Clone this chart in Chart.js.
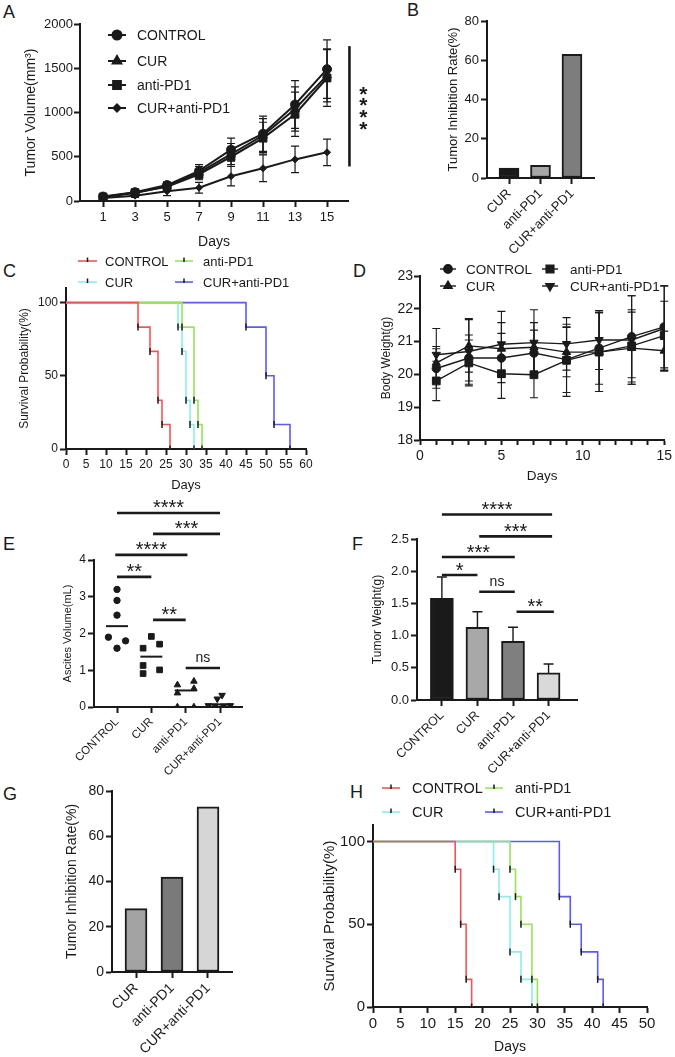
<!DOCTYPE html>
<html>
<head>
<meta charset="utf-8">
<title>Tumor study panels</title>
<script src="https://cdn.jsdelivr.net/npm/chart.js@4.4.1/dist/chart.umd.min.js"></script>
<style>
  html, body { margin: 0; padding: 0; background: #fff; }
  body { position: relative; width: 675px; height: 1057px; overflow: hidden;
         font-family: "Liberation Sans", Arial, sans-serif; color: #1a1a1a; }
  canvas { position: absolute; }
  .tag { position: absolute; font-size: 18px; line-height: 18px; }
</style>
</head>
<body>
<div class="tag" style="left:3px;top:3px">A</div>
<div class="tag" style="left:407px;top:1px">B</div>
<div class="tag" style="left:3px;top:262px">C</div>
<div class="tag" style="left:353px;top:262px">D</div>
<div class="tag" style="left:3px;top:535px">E</div>
<div class="tag" style="left:352px;top:535px">F</div>
<div class="tag" style="left:3px;top:785px">G</div>
<div class="tag" style="left:350px;top:783px">H</div>
<script>
// values
const days = [1, 3, 5, 7, 9, 11, 13, 15];
const groups = ["CONTROL", "CUR", "anti-PD1", "CUR+anti-PD1"];
const treated = ["CUR", "anti-PD1", "CUR+anti-PD1"];

// A: tumor volume (mm3), mean and SD
const volCtrl = [50, 100, 180, 340, 580, 760, 1090, 1490];
const volCur = [45, 90, 170, 320, 530, 740, 1040, 1420];
const volAnti = [45, 95, 160, 300, 500, 710, 980, 1390];
const volCombo = [35, 60, 110, 150, 280, 370, 470, 550];
const volCtrlSd = [15, 25, 35, 70, 130, 200, 270, 330];
const volCurSd = [15, 25, 35, 70, 120, 190, 250, 300];
const volAntiSd = [15, 25, 35, 60, 110, 180, 250, 320];
const volComboSd = [15, 20, 50, 60, 110, 150, 150, 150];
const sigA = [{ vertical: true, x: 16.4, from: 1750, to: 390, text: "****" }];

// B and G: tumor inhibition rate (%)
const inhibitB = [5, 6.5, 63];
const inhibitG = [28, 42, 73];

// C: survival, first cohort
const survC_ctrlDay = [0, 18, 21, 23, 24, 26];
const survC_ctrlPct = [100, 83.3, 66.7, 33.3, 16.7, 0];
const survC_curDay = [0, 28, 29, 30, 31, 32];
const survC_curPct = [100, 83.3, 66.7, 33.3, 16.7, 0];
const survC_antiDay = [0, 29, 32, 33, 34];
const survC_antiPct = [100, 83.3, 33.3, 16.7, 0];
const survC_comboDay = [0, 45, 50, 52, 56];
const survC_comboPct = [100, 83.3, 50, 16.7, 0];

// D: body weight (g), mean and SD
const bwCtrl = [20.18, 20.5, 20.5, 20.65, 20.45, 20.8, 21.15, 21.45];
const bwCur = [20.35, 20.87, 20.78, 20.83, 20.68, 20.68, 20.8, 20.72];
const bwAnti = [19.8, 20.35, 20.02, 19.99, 20.43, 20.68, 20.87, 21.18];
const bwCombo = [20.6, 20.7, 20.92, 20.97, 20.93, 21.05, 21.05, 21.4];
const bwCtrlSd = [0.6, 0.7, 0.75, 0.7, 1.0, 1.1, 1.25, 1.25];
const bwCurSd = [0.5, 0.8, 0.8, 0.75, 0.75, 1.2, 1.1, 0.6];
const bwAntiSd = [0.6, 0.7, 0.75, 0.7, 1.1, 1.2, 1.1, 1.05];
const bwComboSd = [0.8, 1.0, 1.0, 1.0, 0.8, 0.9, 1.35, 1.3];

// E: ascites volume (mL), single animals + group means
const ascCtrl = [3.2, 2.9, 2.5, 1.9, 1.8, 1.6];
const ascCtrlJit = [0, 0, 0, -0.25, 0.25, 0];
const ascCur = [1.92, 1.6, 1.71, 1.13, 1.01, 0.91];
const ascCurJit = [0, -0.24, 0.24, -0.24, 0.24, -0.24];
const ascAnti = [0.6, 0.38, 0, 0.7, 0.5, 0];
const ascAntiJit = [-0.24, -0.24, -0.24, 0.24, 0.24, 0.24];
const ascCombo = [0.32, 0.22, 0.04, 0.03, 0.03, 0.04];
const ascComboJit = [0.06, -0.08, -0.34, -0.14, 0.1, 0.3];
const ascMeans = [2.2, 1.37, 0.45, 0.07];
const sigE = [
  { from: 0, to: 3, at: 5.28, text: "****" },
  { from: 1.05, to: 3, at: 4.71, text: "***" },
  { from: -0.05, to: 2.05, at: 4.14, text: "****" },
  { from: 0, to: 1, at: 3.54, text: "**" },
  { from: 1.05, to: 2, at: 2.37, text: "**" },
  { from: 2, to: 3, at: 1.06, text: "ns" }
];

// F: tumor weight (g), mean + SD
const weightF = [1.58, 1.13, 0.91, 0.42];
const weightFSd = [0.33, 0.24, 0.22, 0.14];
const sigF = [
  { from: 0, to: 3.1, at: 2.88, text: "****" },
  { from: 1.05, to: 3.1, at: 2.54, text: "***" },
  { from: 0, to: 2.05, at: 2.22, text: "***" },
  { from: 0, to: 1.0, at: 1.94, text: "*" },
  { from: 1.05, to: 2.05, at: 1.68, text: "ns" },
  { from: 2.1, to: 3.15, at: 1.37, text: "**" }
];

// H: survival, second cohort
const survH_ctrlDay = [0, 15, 16, 17, 18];
const survH_ctrlPct = [100, 83.3, 50, 16.7, 0];
const survH_curDay = [0, 22, 23, 25, 27, 29];
const survH_curPct = [100, 83.3, 66.7, 33.3, 16.7, 0];
const survH_antiDay = [0, 25, 26, 27, 29, 30];
const survH_antiPct = [100, 83.3, 66.7, 50, 16.7, 0];
const survH_comboDay = [0, 34, 36, 38, 41, 42];
const survH_comboPct = [100, 66.7, 50, 33.3, 16.7, 0];

// ---------- look ----------
const INK = "#1a1a1a";
const FONT = '"Liberation Sans", Arial, sans-serif';
const kmColors = ["#f05656", "#8aeeee", "#97e35c", "#5b5bf2"];
Chart.defaults.font.family = FONT;
Chart.defaults.color = INK;

function drawErr(chart) {
  const ctx = chart.ctx, ys = chart.scales.y;
  chart.data.datasets.forEach((ds, i) => {
    if (!ds.sd) return;
    const meta = chart.getDatasetMeta(i);
    ctx.save();
    ctx.strokeStyle = INK;
    ctx.lineWidth = ds.sdLine || 1.2;
    meta.data.forEach((el, j) => {
      const raw = ds.data[j];
      const v = typeof raw === "object" ? raw.y : raw;
      const hi = ys.getPixelForValue(v + ds.sd[j]);
      const lo = ys.getPixelForValue(ds.sdUp ? v : v - ds.sd[j]);
      const c = ds.sdCap || 4;
      ctx.beginPath();
      ctx.moveTo(el.x, hi); ctx.lineTo(el.x, lo);
      ctx.moveTo(el.x - c, hi); ctx.lineTo(el.x + c, hi);
      if (!ds.sdUp) { ctx.moveTo(el.x - c, lo); ctx.lineTo(el.x + c, lo); }
      ctx.stroke();
    });
    ctx.restore();
  });
}

const errorBars = {
  id: "errorBars",
  beforeDatasetsDraw(chart, args, opts) { if (opts.under) drawErr(chart); },
  afterDatasetsDraw(chart, args, opts) { if (!opts.under) drawErr(chart); }
};

const sigMarks = {
  id: "sigMarks",
  afterDraw(chart, args, opts) {
    const items = opts.items || [];
    const ctx = chart.ctx, xs = chart.scales.x, ys = chart.scales.y;
    items.forEach(b => {
      ctx.save();
      ctx.strokeStyle = INK; ctx.fillStyle = INK; ctx.lineWidth = 2.6;
      ctx.textAlign = "center"; ctx.textBaseline = "alphabetic";
      if (b.vertical) {
        const x = xs.getPixelForValue(b.x);
        const y1 = ys.getPixelForValue(b.from), y2 = ys.getPixelForValue(b.to);
        ctx.beginPath(); ctx.moveTo(x, y1); ctx.lineTo(x, y2); ctx.stroke();
        ctx.font = "bold 21px " + FONT;
        const n = b.text.length, mid = (y1 + y2) / 2;
        for (let k = 0; k < n; k++) ctx.fillText("*", x + 14, mid + (k - (n - 1) / 2) * 11.7 + 12);
      } else {
        const x1 = xs.getPixelForValue(b.from), x2 = xs.getPixelForValue(b.to);
        const y = ys.getPixelForValue(b.at);
        ctx.beginPath(); ctx.moveTo(x1, y); ctx.lineTo(x2, y); ctx.stroke();
        const ns = b.text === "ns";
        ctx.font = (ns ? "14px " : "20px ") + FONT;
        ctx.fillText(b.text, (x1 + x2) / 2, ns ? y - 6 : y + 1.5);
      }
      ctx.restore();
    });
  }
};

const keyBox = {
  id: "keyBox",
  afterDraw(chart, args, opts) {
    if (!opts.items) return;
    const ctx = chart.ctx;
    opts.items.forEach(it => {
      const ds = chart.data.datasets[it.ds];
      const x1 = it.x1 - opts.ox, x2 = it.x2 - opts.ox, y = it.y - opts.oy;
      const mx = (x1 + x2) / 2;
      ctx.save();
      ctx.strokeStyle = ds.borderColor; ctx.lineWidth = opts.lw || 2;
      ctx.beginPath(); ctx.moveTo(x1, y); ctx.lineTo(x2, y); ctx.stroke();
      ctx.strokeStyle = INK; ctx.fillStyle = INK;
      if (opts.tick) {
        ctx.lineWidth = 1.5;
        ctx.beginPath(); ctx.moveTo(mx, y - 3.5); ctx.lineTo(mx, y + 1); ctx.stroke();
      } else {
        Chart.helpers.drawPoint(ctx, { pointStyle: ds.pointStyle, rotation: ds.pointRotation || 0,
          radius: ds.pointRadius, borderWidth: 1 }, mx, y);
      }
      ctx.font = opts.size + "px " + FONT;
      ctx.textAlign = "left"; ctx.textBaseline = "middle";
      ctx.fillText(ds.label, it.tx - opts.ox, y + 1);
      ctx.restore();
    });
  }
};

function linAxis(o) {
  const ax = {
    type: "linear", min: o.min, max: o.max, offset: false,
    border: { color: INK, width: 2 },
    grid: { drawOnChartArea: false, offset: false, tickLength: o.tick || 6, tickWidth: 2, tickColor: INK, color: INK },
    ticks: { color: INK, padding: o.pad === undefined ? 2 : o.pad, font: { size: o.size }, autoSkip: false,
             minRotation: o.rot || 0, maxRotation: o.rot || 0 },
    title: { display: false }
  };
  if (o.step) ax.ticks.stepSize = o.step;
  if (o.fmt) ax.ticks.callback = o.fmt;
  if (o.at) ax.afterBuildTicks = s => { s.ticks = o.at.map(v => ({ value: v })); };
  if (o.title) ax.title = { display: true, text: o.title, color: INK, font: { size: o.tsize }, padding: o.tpad };
  return ax;
}

// box = canvas [left, top, w, h] on the page, area = plot area [left, top, right, bottom] on the page
function panel(box, area, config) {
  const cv = document.createElement("canvas");
  cv.width = box[2]; cv.height = box[3];
  cv.style.left = box[0] + "px"; cv.style.top = box[1] + "px";
  document.body.appendChild(cv);
  const o = config.options;
  o.responsive = false;
  o.animation = false;
  o.layout = { padding: { left: 0, top: area[1] - box[1], right: box[0] + box[2] - area[2], bottom: 0 } };
  o.plugins = Object.assign({ legend: { display: false }, tooltip: { enabled: false } }, o.plugins);
  if (o.plugins.keyBox) Object.assign(o.plugins.keyBox, { ox: box[0], oy: box[1] });
  o.scales.x.afterFit = s => { s.height = box[1] + box[3] - area[3]; };
  o.scales.y.afterFit = s => { s.width = area[0] - box[0]; };
  config.plugins = [errorBars, sigMarks, keyBox];
  return new Chart(cv, config);
}

const plain = v => String(v);

// ---------- A ----------
const markA = ["circle", "triangle", "rect", "rectRot"];
const radA = [4.5, 5, 5.5, 3.5];
function volSet(label, mean, sd, k) {
  return { label, data: days.map((d, i) => ({ x: d, y: mean[i] })), sd, sdCap: 4, sdLine: 1.2,
    borderColor: INK, borderWidth: 2, pointStyle: markA[k], pointRadius: radA[k],
    pointBackgroundColor: INK, pointBorderColor: INK, pointBorderWidth: 1 };
}
panel([0, 0, 400, 255], [80, 24, 348, 201], {
  type: "line",
  data: { datasets: [
    volSet(groups[0], volCtrl, volCtrlSd, 0),
    volSet(groups[1], volCur, volCurSd, 1),
    volSet(groups[2], volAnti, volAntiSd, 2),
    volSet(groups[3], volCombo, volComboSd, 3)
  ] },
  options: {
    scales: {
      x: linAxis({ min: -0.44, max: 16.31, at: days, size: 13, pad: 3, fmt: plain,
                   title: "Days", tsize: 14, tpad: { top: 0, bottom: 4.6 } }),
      y: linAxis({ min: 0, max: 2000, step: 500, size: 13, pad: 1, fmt: plain,
                   title: "Tumor Volume(mm³)", tsize: 14, tpad: { top: 22.6, bottom: 0 } })
    },
    plugins: {
      errorBars: { under: true },
      sigMarks: { items: sigA },
      keyBox: { size: 14, lw: 2, items: [
        { ds: 0, x1: 108, x2: 126, tx: 137, y: 35 },
        { ds: 1, x1: 108, x2: 126, tx: 137, y: 61 },
        { ds: 2, x1: 108, x2: 126, tx: 137, y: 85 },
        { ds: 3, x1: 108, x2: 126, tx: 137, y: 108 }
      ] }
    }
  }
});

// ---------- B ----------
panel([400, 0, 275, 260], [487, 21, 594, 178], {
  type: "bar",
  data: { datasets: [{ data: inhibitB.map((v, i) => ({ x: i, y: v })),
    backgroundColor: [INK, "#a6a6a6", "#7d7d7d"], borderColor: INK, borderWidth: 2,
    borderSkipped: false, barThickness: 20 }] },
  options: {
    scales: {
      x: linAxis({ min: -0.7, max: 2.7, at: [0, 1, 2], fmt: v => treated[v], rot: 45, size: 13, pad: 2 }),
      y: linAxis({ min: 0, max: 80, step: 20, size: 13, pad: 2, fmt: plain,
                   title: "Tumor Inhibition Rate(%)", tsize: 13, tpad: { top: 45.2, bottom: 0 } })
    }
  }
});

// ---------- C and H ----------
function kmSet(label, dayArr, pctArr, k, order) {
  return { label, data: dayArr.map((d, i) => ({ x: d, y: pctArr[i] })), stepped: true, order,
    borderColor: kmColors[k], borderWidth: 1.6, fill: false,
    pointStyle: "line", pointRotation: 90, pointRadius: dayArr.map((d, i) => (i ? 3.5 : 0)),
    pointBorderColor: INK, pointBorderWidth: 1.5 };
}
panel([0, 250, 340, 250], [66, 288, 306, 449], {
  type: "line",
  data: { datasets: [
    kmSet(groups[0], survC_ctrlDay, survC_ctrlPct, 0, 0),
    kmSet(groups[1], survC_curDay, survC_curPct, 1, 2),
    kmSet(groups[2], survC_antiDay, survC_antiPct, 2, 1),
    kmSet(groups[3], survC_comboDay, survC_comboPct, 3, 3)
  ] },
  options: {
    scales: {
      x: linAxis({ min: 0, max: 60, step: 5, size: 12, pad: 2, fmt: plain,
                   title: "Days", tsize: 13, tpad: { top: 0, bottom: 7.2 } }),
      y: linAxis({ min: 0, max: 110, at: [0, 50, 100], size: 12, pad: 2, fmt: plain,
                   title: "Survival Probability(%)", tsize: 12, tpad: { top: 17.8, bottom: 0 } })
    },
    plugins: {
      keyBox: { size: 13, lw: 1.6, tick: true, items: [
        { ds: 0, x1: 78, x2: 97, tx: 105, y: 261 },
        { ds: 2, x1: 175, x2: 193, tx: 203, y: 261 },
        { ds: 1, x1: 78, x2: 97, tx: 105, y: 282 },
        { ds: 3, x1: 175, x2: 193, tx: 203, y: 282 }
      ] }
    }
  }
});

panel([300, 770, 375, 287], [373, 825, 647, 1007], {
  type: "line",
  data: { datasets: [
    kmSet(groups[0], survH_ctrlDay, survH_ctrlPct, 0, 0),
    kmSet(groups[1], survH_curDay, survH_curPct, 1, 2),
    kmSet(groups[2], survH_antiDay, survH_antiPct, 2, 1),
    kmSet(groups[3], survH_comboDay, survH_comboPct, 3, 3)
  ] },
  options: {
    scales: {
      x: linAxis({ min: 0, max: 50, step: 5, size: 15, pad: 2, fmt: plain,
                   title: "Days", tsize: 14, tpad: { top: 0, bottom: 1.6 } }),
      y: linAxis({ min: 0, max: 110, at: [0, 50, 100], size: 15, pad: 2, fmt: plain,
                   title: "Survival Probability(%)", tsize: 15, tpad: { top: 21, bottom: 0 } })
    },
    plugins: {
      keyBox: { size: 14.5, lw: 1.6, tick: true, items: [
        { ds: 0, x1: 382, x2: 400, tx: 412, y: 788 },
        { ds: 2, x1: 485, x2: 503, tx: 515, y: 788 },
        { ds: 1, x1: 382, x2: 400, tx: 412, y: 812 },
        { ds: 3, x1: 485, x2: 503, tx: 515, y: 812 }
      ] }
    }
  }
});

// ---------- D ----------
const markD = ["circle", "triangle", "rect", "triangle"];
const rotD = [0, 0, 0, 180];
const radD = [4.2, 4.8, 5.5, 4.8];
function bwSet(label, mean, sd, k) {
  return { label, data: days.map((d, i) => ({ x: d, y: mean[i] })), sd, sdCap: 4, sdLine: 1.1,
    borderColor: INK, borderWidth: 1.4, pointStyle: markD[k], pointRotation: rotD[k], pointRadius: radD[k],
    pointBackgroundColor: INK, pointBorderColor: INK, pointBorderWidth: 1 };
}
panel([340, 250, 335, 250], [420, 276, 667, 440], {
  type: "line",
  data: { datasets: [
    bwSet(groups[0], bwCtrl, bwCtrlSd, 0),
    bwSet(groups[1], bwCur, bwCurSd, 1),
    bwSet(groups[2], bwAnti, bwAntiSd, 2),
    bwSet(groups[3], bwCombo, bwComboSd, 3)
  ] },
  options: {
    scales: {
      x: linAxis({ min: 0, max: 15, step: 1, size: 14, pad: 3, tick: 5, fmt: v => (v % 5 === 0 ? String(v) : ""),
                   title: "Days", tsize: 13.5, tpad: { top: 0, bottom: 15.9 } }),
      y: linAxis({ min: 18, max: 23, step: 1, size: 14, pad: 1, fmt: plain,
                   title: "Body Weight(g)", tsize: 12, tpad: { top: 39.8, bottom: 0 } })
    },
    plugins: {
      errorBars: { under: true },
      keyBox: { size: 13.5, lw: 1.4, items: [
        { ds: 0, x1: 440, x2: 456, tx: 466, y: 269 },
        { ds: 2, x1: 542, x2: 558, tx: 570, y: 269 },
        { ds: 1, x1: 440, x2: 456, tx: 466, y: 286 },
        { ds: 3, x1: 542, x2: 558, tx: 570, y: 286 }
      ] }
    }
  }
});

// ---------- E ----------
function dotSet(vals, jit, k, style, rot, r) {
  return { type: "scatter", data: vals.map((v, i) => ({ x: k + jit[i], y: v })), showLine: false,
    pointStyle: style, pointRotation: rot, pointRadius: r,
    pointBackgroundColor: INK, pointBorderColor: INK, pointBorderWidth: 1 };
}
function meanSet(k) {
  return { type: "line", data: [{ x: k - 0.32, y: ascMeans[k] }, { x: k + 0.32, y: ascMeans[k] }],
    borderColor: INK, borderWidth: 2, pointRadius: 0 };
}
panel([0, 495, 340, 290], [94, 560, 242, 707], {
  type: "scatter",
  data: { datasets: [
    dotSet(ascCtrl, ascCtrlJit, 0, "circle", 0, 3.2),
    dotSet(ascCur, ascCurJit, 1, "rect", 0, 4),
    dotSet(ascAnti, ascAntiJit, 2, "triangle", 0, 3.8),
    dotSet(ascCombo, ascComboJit, 3, "triangle", 180, 3.8),
    meanSet(0), meanSet(1), meanSet(2), meanSet(3)
  ] },
  options: {
    scales: {
      x: linAxis({ min: -0.67, max: 3.64, at: [0, 1, 2, 3], fmt: v => groups[v], rot: 45, size: 11.5, pad: 2 }),
      y: linAxis({ min: 0, max: 4, step: 1, size: 12, pad: 2, fmt: plain,
                   title: "Ascites Volume(mL)", tsize: 11, tpad: { top: 61.4, bottom: 0 } })
    },
    plugins: { sigMarks: { items: sigE } }
  }
});

// ---------- F ----------
panel([340, 495, 335, 290], [417, 539, 577, 700], {
  type: "bar",
  data: { datasets: [{ data: weightF.map((v, i) => ({ x: i, y: v })), sd: weightFSd, sdUp: true, sdCap: 5, sdLine: 1.4,
    backgroundColor: [INK, "#a8a8a8", "#7f7f7f", "#d9d9d9"], borderColor: INK, borderWidth: 2,
    borderSkipped: false, barThickness: 23 }] },
  options: {
    scales: {
      x: linAxis({ min: -0.7, max: 3.8, at: [0, 1, 2, 3], fmt: v => groups[v], rot: 45, size: 12.5, pad: 2 }),
      y: linAxis({ min: 0, max: 2.5, step: 0.5, size: 13, pad: 2, fmt: v => v.toFixed(1),
                   title: "Tumor Weight(g)", tsize: 12, tpad: { top: 30.8, bottom: 0 } })
    },
    plugins: { sigMarks: { items: sigF } }
  }
});

// ---------- G ----------
panel([0, 770, 300, 287], [112, 791, 232, 972], {
  type: "bar",
  data: { datasets: [{ data: inhibitG.map((v, i) => ({ x: i, y: v })),
    backgroundColor: ["#a3a3a3", "#7a7a7a", "#d6d6d6"], borderColor: INK, borderWidth: 2,
    borderSkipped: false, barThickness: 22 }] },
  options: {
    scales: {
      x: linAxis({ min: -0.667, max: 2.667, at: [0, 1, 2], fmt: v => treated[v], rot: 45, size: 14, pad: 2 }),
      y: linAxis({ min: 0, max: 80, step: 20, size: 14, pad: 2, fmt: plain,
                   title: "Tumor Inhibition Rate(%)", tsize: 14, tpad: { top: 63.6, bottom: 0 } })
    }
  }
});
</script>
</body>
</html>
